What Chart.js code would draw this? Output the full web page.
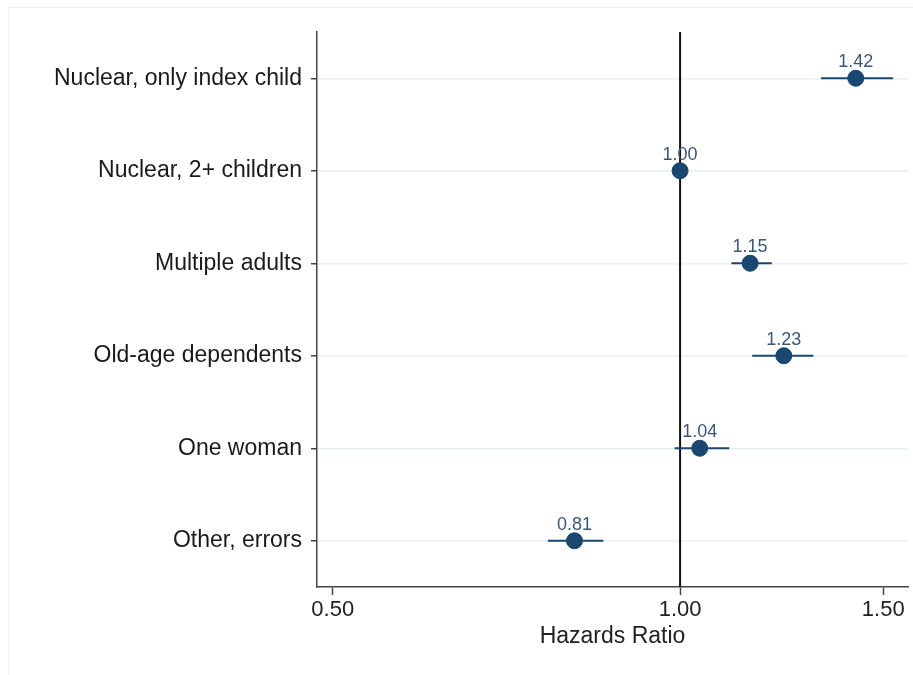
<!DOCTYPE html>
<html>
<head>
<meta charset="utf-8">
<script src="https://cdn.jsdelivr.net/npm/chart.js@4/dist/chart.umd.min.js"></script>
<style>
  html, body { margin: 0; padding: 0; background: #fff; }
  #wrap { width: 913px; height: 675px; }
</style>
</head>
<body>
<div id="wrap"><canvas id="forest"></canvas></div>
<script>
// household types, top to bottom
const groups = ["Nuclear, only index child", "Nuclear, 2+ children", "Multiple adults",
    "Old-age dependents", "One woman", "Other, errors"];
// hazard ratios and 95% CI
const hazardRatio = [1.42, 1.00, 1.15, 1.23, 1.04, 0.81];
const ciLow = [1.325, 0.995, 1.108, 1.155, 0.989, 0.768];
const ciHigh = [1.530, 1.005, 1.201, 1.305, 1.103, 0.858];
const xTicks = [0.5, 1.0, 1.5];
const refValue = 1;

const navy = '#1a476f';
const axisGrey = '#444';
const fontFamily = '"Liberation Sans", Arial, sans-serif';

// white background + faint outer frame like the stata graph region
const background = {
    id: 'background',
    beforeDraw(chart) {
        const ctx = chart.ctx;
        ctx.save();
        ctx.fillStyle = '#fff';
        ctx.fillRect(0, 0, chart.width, chart.height);
        ctx.strokeStyle = '#f2f2f2';
        ctx.lineWidth = 1;
        ctx.strokeRect(8.5, 7.5, chart.width - 8, chart.height - 6);
        ctx.restore();
    }
};

// reference line at HR = 1 and the confidence intervals
const ciBars = {
    id: 'ciBars',
    beforeDatasetsDraw(chart) {
        const ctx = chart.ctx;
        const x = chart.scales.x;
        const y = chart.scales.y;
        const area = chart.chartArea;
        ctx.save();
        ctx.strokeStyle = '#111';
        ctx.lineWidth = 2;
        const rx = x.getPixelForValue(refValue);
        ctx.beginPath();
        ctx.moveTo(rx, area.top);
        ctx.lineTo(rx, area.bottom);
        ctx.stroke();

        ctx.strokeStyle = navy;
        ctx.lineWidth = 2;
        groups.forEach((g, i) => {
            const py = y.getPixelForValue(i);
            ctx.beginPath();
            ctx.moveTo(x.getPixelForValue(ciLow[i]), py);
            ctx.lineTo(x.getPixelForValue(ciHigh[i]), py);
            ctx.stroke();
        });
        ctx.restore();
    },
    afterDatasetsDraw(chart) {
        // value labels above each marker
        const ctx = chart.ctx;
        const meta = chart.getDatasetMeta(0);
        ctx.save();
        ctx.font = '18px ' + fontFamily;
        ctx.fillStyle = '#3b5877';
        ctx.textAlign = 'center';
        ctx.textBaseline = 'bottom';
        meta.data.forEach((pt, i) => {
            ctx.fillText(hazardRatio[i].toFixed(2), pt.x, pt.y - 7);
        });
        ctx.restore();
    }
};

const forestData = {
    datasets: [{
        data: groups.map((g, i) => ({ x: hazardRatio[i], y: g })),
        backgroundColor: navy,
        borderColor: navy,
        pointRadius: 8,
        pointHoverRadius: 8,
        showLine: false
    }]
};

const forestOptions = {
    responsive: true,
    maintainAspectRatio: false,
    animation: false,
    layout: {
        // big markers would otherwise add their own padding round the plot
        autoPadding: false,
        padding: { top: 32, right: 5, left: 0, bottom: 0 }
    },
    scales: {
        x: {
            type: 'logarithmic',
            min: 0.4845,
            max: 1.576,
            afterBuildTicks: scale => {
                scale.ticks = xTicks.map(v => ({ value: v }));
            },
            afterFit: scale => {
                scale.height = 88;
                // don't let the last tick label push the plot edge in
                scale.paddingRight = 0;
                scale.paddingLeft = 0;
            },
            ticks: {
                autoSkip: false,
                maxRotation: 0,
                padding: 2,
                color: '#222',
                font: { size: 22, family: fontFamily },
                callback: v => Number(v).toFixed(2)
            },
            grid: {
                drawOnChartArea: false,
                drawTicks: true,
                tickLength: 8,
                tickColor: axisGrey,
                tickWidth: 1.5
            },
            border: { color: axisGrey, width: 1.5 },
            title: {
                display: true,
                text: 'Hazards Ratio',
                color: '#222',
                font: { size: 23, family: fontFamily },
                padding: { top: 0, bottom: 25 }
            }
        },
        y: {
            type: 'category',
            labels: groups,
            offset: true,
            afterFit: scale => { scale.width = 317; },
            ticks: {
                padding: 9,
                color: '#1a1a1a',
                font: { size: 23, family: fontFamily }
            },
            grid: {
                offset: false,
                color: '#e8f0f1',
                lineWidth: 1.5,
                tickColor: axisGrey,
                tickLength: 6,
                tickWidth: 1.5
            },
            border: { color: axisGrey, width: 1.5 }
        }
    },
    plugins: {
        legend: { display: false },
        tooltip: { enabled: false }
    }
};

let forestChart = new Chart(document.getElementById('forest'), {
    type: 'scatter',
    data: forestData,
    options: forestOptions,
    plugins: [background, ciBars]
});
</script>
</body>
</html>
